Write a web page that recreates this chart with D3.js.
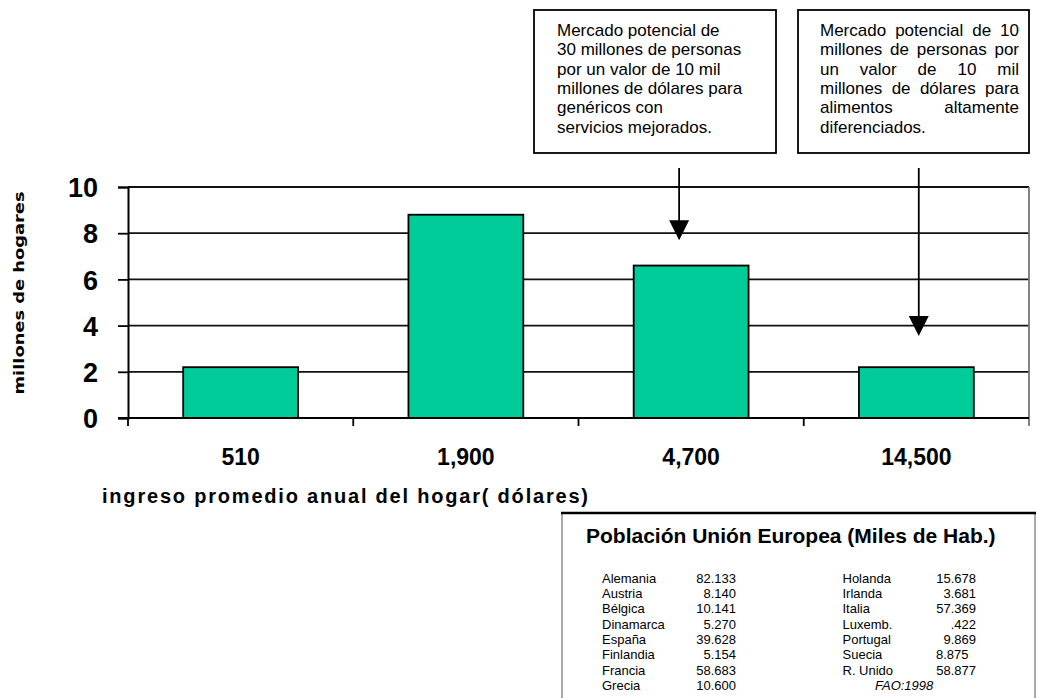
<!DOCTYPE html>
<html>
<head>
<meta charset="utf-8">
<script src="https://cdn.jsdelivr.net/npm/d3@7"></script>
<style>
  body { margin: 0; background: #fff; }
  svg { display: block; }
</style>
</head>
<body>
<script>
// Households by average annual income band (millions)
const categories = ["510", "1,900", "4,700", "14,500"];
const households = [2.2, 8.8, 6.6, 2.2];
const yTicks = [0, 2, 4, 6, 8, 10];

// Call-out notes and the bars they point at (arrow tip in data units)
const noteGenerics = [
  "Mercado potencial de",
  "30 millones de personas",
  "por un valor de 10 mil",
  "millones de dólares para",
  "genéricos con",
  "servicios mejorados."
];
const noteDifferentiated = [
  "Mercado potencial de 10",
  "millones de personas por",
  "un valor de 10 mil",
  "millones de dólares para",
  "alimentos altamente",
  "diferenciados."
];
const arrowCategories = ["4,700", "14,500"];
const arrowTipValues = [7.7, 3.55];

// EU population table (thousands of inhabitants)
const tableTitle = "Población Unión Europea (Miles de Hab.)";
const euLeftNames = ["Alemania", "Austria", "Bélgica", "Dinamarca", "España", "Finlandia", "Francia", "Grecia"];
const euLeftValues = ["82.133", "8.140", "10.141", "5.270", "39.628", "5.154", "58.683", "10.600"];
const euRightNames = ["Holanda", "Irlanda", "Italia", "Luxemb.", "Portugal", "Suecia", "R. Unido"];
const euRightValues = ["15.678", "3.681", "57.369", ".422", "9.869", "8.875", "58.877"];
const euLeftAlignedValues = ["Suecia"];
const tableSource = "FAO:1998";

const yTitle = "millones de hogares";
const xTitle = "ingreso promedio anual del hogar( dólares)";

// ---------------------------------------------------------------
const W = 1039, H = 698;
const SANS = "'Liberation Sans', Arial, Helvetica, sans-serif";
const plot = { left: 128, right: 1029, top: 187, bottom: 418 };
const barFill = "#00CC99";

const svg = d3.select("body").append("svg")
  .attr("width", W).attr("height", H)
  .style("font-family", SANS);

const x = d3.scaleBand()
  .domain(categories)
  .range([plot.left, plot.right])
  .paddingInner(0.49)
  .paddingOuter(0.245);

const y = d3.scaleLinear().domain([0, 10]).range([plot.bottom, plot.top]);

// Horizontal gridlines
svg.append("g")
  .selectAll("line")
  .data(yTicks.filter(d => d > 0))
  .join("line")
  .attr("x1", plot.left).attr("x2", plot.right)
  .attr("y1", d => y(d)).attr("y2", d => y(d))
  .attr("stroke", "#111").attr("stroke-width", 1.8);

// Right frame edge
svg.append("line")
  .attr("x1", plot.right).attr("x2", plot.right)
  .attr("y1", plot.top).attr("y2", plot.bottom + 8)
  .attr("stroke", "#777").attr("stroke-width", 1.8);

// Bars
svg.append("g")
  .selectAll("rect")
  .data(categories.map((c, i) => ({ c, v: households[i] })))
  .join("rect")
  .attr("x", d => x(d.c))
  .attr("y", d => y(d.v))
  .attr("width", x.bandwidth())
  .attr("height", d => y(0) - y(d.v))
  .attr("fill", barFill)
  .attr("stroke", "#000")
  .attr("stroke-width", 1.8);

// Y axis
const yAxis = svg.append("g")
  .attr("transform", `translate(${plot.left},0)`)
  .call(d3.axisLeft(y).tickValues(yTicks).tickSize(10).tickPadding(20).tickFormat(d3.format("d")));
yAxis.select(".domain").attr("stroke", "#000").attr("stroke-width", 2);
yAxis.selectAll(".tick line").attr("stroke", "#000").attr("stroke-width", 1.8);
yAxis.selectAll(".tick text")
  .attr("font-family", SANS).attr("font-size", 27).attr("font-weight", "bold")
  .attr("fill", "#000").attr("dy", "0.36em");

// X axis: baseline, boundary ticks and centred category labels
const boundaries = d3.range(categories.length + 1).map(i => plot.left + i * x.step());
svg.append("line")
  .attr("x1", plot.left - 10).attr("x2", plot.right)
  .attr("y1", y(0)).attr("y2", y(0))
  .attr("stroke", "#000").attr("stroke-width", 2);
svg.append("g")
  .selectAll("line")
  .data(boundaries.slice(0, -1))
  .join("line")
  .attr("x1", d => d).attr("x2", d => d)
  .attr("y1", y(0)).attr("y2", y(0) + 8)
  .attr("stroke", "#000").attr("stroke-width", 1.8);
svg.append("g")
  .selectAll("text")
  .data(categories)
  .join("text")
  .attr("x", d => x(d) + x.bandwidth() / 2)
  .attr("y", 465)
  .attr("text-anchor", "middle")
  .attr("font-size", 23).attr("font-weight", "bold")
  .text(d => d);

// Axis titles
svg.append("text")
  .attr("transform", "translate(24,293) rotate(-90)")
  .attr("text-anchor", "middle")
  .attr("font-family", "'DejaVu Sans', Verdana, sans-serif")
  .attr("font-size", 14).attr("font-weight", "bold")
  .attr("textLength", 203).attr("lengthAdjust", "spacingAndGlyphs")
  .text(yTitle);

svg.append("text")
  .attr("x", 102).attr("y", 503)
  .attr("font-size", 20).attr("font-weight", "bold")
  .attr("textLength", 486).attr("lengthAdjust", "spacing")
  .text(xTitle);

// Call-out boxes
function drawNote(lines, box, justify) {
  svg.append("rect")
    .attr("x", box.x).attr("y", box.y)
    .attr("width", box.w).attr("height", box.h)
    .attr("fill", "#fff").attr("stroke", "#000").attr("stroke-width", 1.8);
  const g = svg.append("g").attr("font-size", 17).attr("fill", "#000");
  lines.forEach((line, i) => {
    const yy = box.textTop + i * 19.3;
    const words = line.split(" ");
    if (!justify || i === lines.length - 1 || words.length < 2) {
      g.append("text").attr("x", box.textLeft).attr("y", yy).text(line);
      return;
    }
    const nodes = words.map(w => g.append("text").attr("y", yy).text(w));
    const widths = nodes.map(n => n.node().getComputedTextLength());
    const gap = (box.textWidth - d3.sum(widths)) / (words.length - 1);
    let cx = box.textLeft;
    nodes.forEach((n, k) => { n.attr("x", cx); cx += widths[k] + gap; });
  });
}
drawNote(noteGenerics, { x: 534, y: 10, w: 242, h: 143, textLeft: 557, textTop: 36 }, false);
drawNote(noteDifferentiated, { x: 798, y: 10, w: 231, h: 143, textLeft: 820, textTop: 36, textWidth: 199 }, true);

// Arrows from the notes down to their bars
const arrowOffsets = [-12, 2.4];
arrowCategories.forEach((c, i) => {
  const ax = x(c) + x.bandwidth() / 2 + arrowOffsets[i];
  const tip = y(arrowTipValues[i]);
  svg.append("line")
    .attr("x1", ax).attr("x2", ax)
    .attr("y1", 168).attr("y2", tip - 18)
    .attr("stroke", "#000").attr("stroke-width", 1.8);
  svg.append("path")
    .attr("d", `M${ax - 10},${tip - 20} L${ax + 10},${tip - 20} L${ax},${tip} Z`)
    .attr("fill", "#000");
});

// Population table
const tbl = { x: 562, y: 513, r: 1035 };
svg.append("line").attr("x1", tbl.x).attr("x2", tbl.x).attr("y1", tbl.y).attr("y2", H)
  .attr("stroke", "#aaa").attr("stroke-width", 2);
svg.append("line").attr("x1", tbl.r).attr("x2", tbl.r).attr("y1", tbl.y).attr("y2", H)
  .attr("stroke", "#aaa").attr("stroke-width", 2);
svg.append("line").attr("x1", tbl.x - 1).attr("x2", tbl.r + 1).attr("y1", tbl.y).attr("y2", tbl.y)
  .attr("stroke", "#000").attr("stroke-width", 2.6);

svg.append("text")
  .attr("x", 586).attr("y", 543)
  .attr("font-size", 21).attr("font-weight", "bold")
  .text(tableTitle);

const rowY = i => 582.7 + i * 15.3;
const tg = svg.append("g").attr("font-size", 13).attr("fill", "#000");
tg.selectAll(".ln").data(euLeftNames).join("text")
  .attr("x", 602).attr("y", (d, i) => rowY(i)).text(d => d);
tg.selectAll(".lv").data(euLeftValues).join("text")
  .attr("x", 736).attr("y", (d, i) => rowY(i)).attr("text-anchor", "end").text(d => d);
tg.selectAll(".rn").data(euRightNames).join("text")
  .attr("x", 842.5).attr("y", (d, i) => rowY(i)).text(d => d);
tg.selectAll(".rv").data(euRightValues.map((v, i) => ({ v, left: euLeftAlignedValues.includes(euRightNames[i]) })))
  .join("text")
  .attr("x", d => d.left ? 936 : 976)
  .attr("y", (d, i) => rowY(i))
  .attr("text-anchor", d => d.left ? "start" : "end")
  .text(d => d.v);
tg.append("text")
  .attr("x", 875).attr("y", rowY(7))
  .attr("font-style", "italic")
  .text(tableSource);
</script>
</body>
</html>
